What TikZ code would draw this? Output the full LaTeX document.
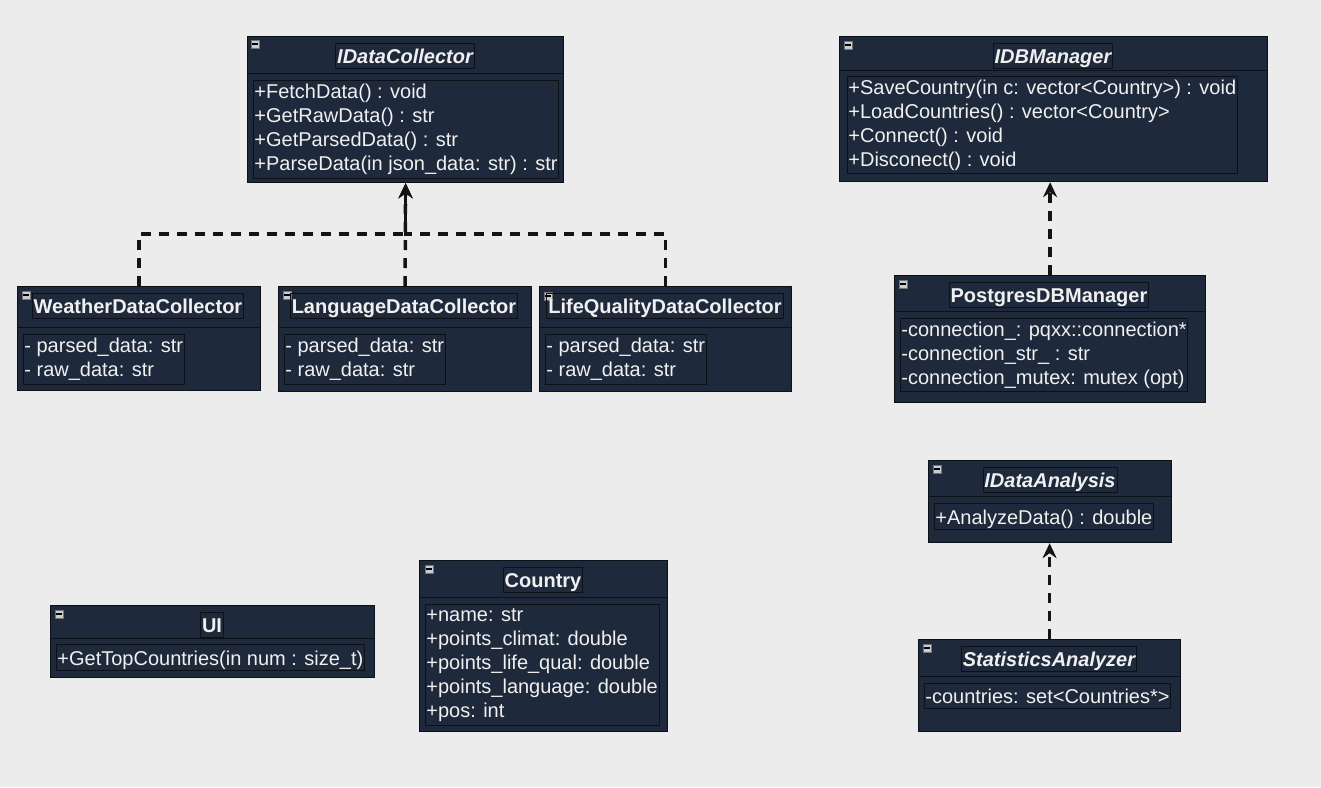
\documentclass[tikz,border=0pt]{standalone}
\usepackage{fontspec}
\setmainfont{Liberation Sans}
\usetikzlibrary{arrows.meta}
\definecolor{bg}{HTML}{ECECEC}
\definecolor{boxfill}{HTML}{1E293B}
\definecolor{boxline}{HTML}{0C1017}
\definecolor{txt}{HTML}{F0F0F0}
\definecolor{iconfill}{HTML}{C9CDD3}
\newcommand\lnstrut{\rule[-4.2pt]{0pt}{24pt}}
\tikzset{
  cls/.style={draw=boxline, fill=boxfill, line width=1.2pt, anchor=north west, inner sep=0pt},
  sepline/.style={draw=boxline, line width=1pt},
  ttl/.style={draw=boxline, line width=0.8pt, text=txt, font=\fontsize{20}{24}\selectfont\bfseries,
    inner xsep=1.5pt, inner ysep=0.5pt, execute at begin node=\lnstrut},
  items/.style={draw=boxline, line width=0.8pt, text=txt, font=\fontsize{20}{24}\selectfont,
    anchor=north west, inner xsep=1pt, inner ysep=0pt, align=left,
    execute at begin node=\lnstrut, execute at end node=\lnstrut},
  icon/.style={draw=black!55, fill=iconfill, minimum size=8pt, inner sep=0pt, line width=0.5pt,
    path picture={\draw[black, line width=1.3pt]
      ([xshift=-2.6pt]path picture bounding box.center) -- ([xshift=2.6pt]path picture bounding box.center);}},
  dep/.style={draw=black!92, line width=3.5pt, dash pattern=on 10pt off 8pt,
    -{Stealth[length=15pt,width=14pt,inset=5pt]}},
}
\begin{document}
\begin{tikzpicture}[x=1pt,y=-1pt]
\useasboundingbox (0,0) rectangle (1321,787);
\fill[bg] (0,0) rectangle (1321,787);

% IDataCollector
\node[cls, minimum width=316pt, minimum height=146pt] (idc) at (247,36) {};
\draw[sepline] (247,73) -- (563,73);
\node[icon] (idcicon) at (255,44) {};
\node[ttl] (idctitle) at (405,56) {\itshape IDataCollector};
\node[items, minimum width=302pt, minimum height=98pt] (idcitems) at (253,80)
  {+FetchData() : void\\+GetRawData() : str\\+GetParsedData() : str\\+ParseData(in json\_data: str) : str};

% IDBManager
\node[cls, minimum width=428pt, minimum height=145pt] (idb) at (839,36) {};
\draw[sepline] (839,70) -- (1267,70);
\node[icon] (idbicon) at (848,45) {};
\node[ttl] (idbtitle) at (1053,56) {\itshape IDBManager};
\node[items, minimum width=386pt, minimum height=97pt] (idbitems) at (847,76)
  {+SaveCountry(in c: vector<Country>) : void\\+LoadCountries() : vector<Country>\\+Connect() : void\\+Disconect() : void};

% WeatherDataCollector
\node[cls, minimum width=243pt, minimum height=104pt] (wdc) at (17,286) {};
\draw[sepline] (17,327) -- (260,327);
\node[icon] (wdcicon) at (26,295) {};
\node[ttl] (wdctitle) at (138,306) {WeatherDataCollector};
\node[items, minimum width=159pt, minimum height=50pt] (wdcitems) at (23,334)
  {- parsed\_data: str\\- raw\_data: str};

% LanguageDataCollector
\node[cls, minimum width=253pt, minimum height=105pt] (ldc) at (278,286) {};
\draw[sepline] (278,327) -- (531,327);
\node[icon] (ldcicon) at (287,295) {};
\node[ttl] (ldctitle) at (404,306) {LanguageDataCollector};
\node[items, minimum width=158pt, minimum height=50pt] (ldcitems) at (284,334)
  {- parsed\_data: str\\- raw\_data: str};

% LifeQualityDataCollector
\node[cls, minimum width=252pt, minimum height=105pt] (lqdc) at (539,286) {};
\draw[sepline] (539,327) -- (791,327);
\node[icon] (lqdcicon) at (548,296) {};
\node[ttl] (lqdctitle) at (665,306) {LifeQualityDataCollector};
\node[items, minimum width=158pt, minimum height=50pt] (lqdcitems) at (545,334)
  {- parsed\_data: str\\- raw\_data: str};

% PostgresDBManager
\node[cls, minimum width=311pt, minimum height=127pt] (pdb) at (894,275) {};
\draw[sepline] (894,311) -- (1205,311);
\node[icon] (pdbicon) at (903,284) {};
\node[ttl] (pdbtitle) at (1049,295) {PostgresDBManager};
\node[items, minimum width=285pt, minimum height=73pt] (pdbitems) at (900,318)
  {-connection\_: pqxx::connection*\\-connection\_str\_ : str\\-connection\_mutex: mutex (opt)};

% IDataAnalysis
\node[cls, minimum width=243pt, minimum height=82pt] (ida) at (928,460) {};
\draw[sepline] (928,496) -- (1171,496);
\node[icon] (idaicon) at (937,469) {};
\node[ttl] (idatitle) at (1050,480) {\itshape IDataAnalysis};
\node[items, minimum width=217pt, minimum height=26pt] (idaitems) at (934,503)
  {+AnalyzeData() : double};

% StatisticsAnalyzer
\node[cls, minimum width=262pt, minimum height=92pt] (sa) at (918,639) {};
\draw[sepline] (918,676) -- (1180,676);
\node[icon] (saicon) at (927,648) {};
\node[ttl] (satitle) at (1049,659) {\itshape StatisticsAnalyzer};
\node[items, minimum width=243pt, minimum height=25pt] (saitems) at (924,683)
  {-countries: set<Countries*>};

% UI
\node[cls, minimum width=324pt, minimum height=72pt] (ui) at (50,605) {};
\draw[sepline] (50,638) -- (374,638);
\node[icon] (uiicon) at (59,614) {};
\node[ttl] (uititle) at (212,625) {UI};
\node[items, minimum width=306pt, minimum height=26pt] (uiitems) at (56,644)
  {+GetTopCountries(in num : size\_t)};

% Country
\node[cls, minimum width=248pt, minimum height=171pt] (cty) at (419,560) {};
\draw[sepline] (419,597) -- (667,597);
\node[icon] (ctyicon) at (429,569) {};
\node[ttl] (ctytitle) at (543,580) {Country};
\node[items, minimum width=232pt, minimum height=121pt] (ctyitems) at (425,604)
  {+name: str\\+points\_climat: double\\+points\_life\_qual: double\\+points\_language: double\\+pos: int};

% connectors
\coordinate (junc) at (idc.south |- 0,234);
\draw[dep] (wdc.north) |- (junc) -- (idc.south);
\draw[dep] (lqdc.north) |- (junc) -- (idc.south);
\draw[dep] (ldc.north) -- (idc.south);
\draw[dep] (pdb.north) -- (pdb.north |- idb.south);
\draw[dep] (sa.north) -- (sa.north |- ida.south);
\end{tikzpicture}
\end{document}
